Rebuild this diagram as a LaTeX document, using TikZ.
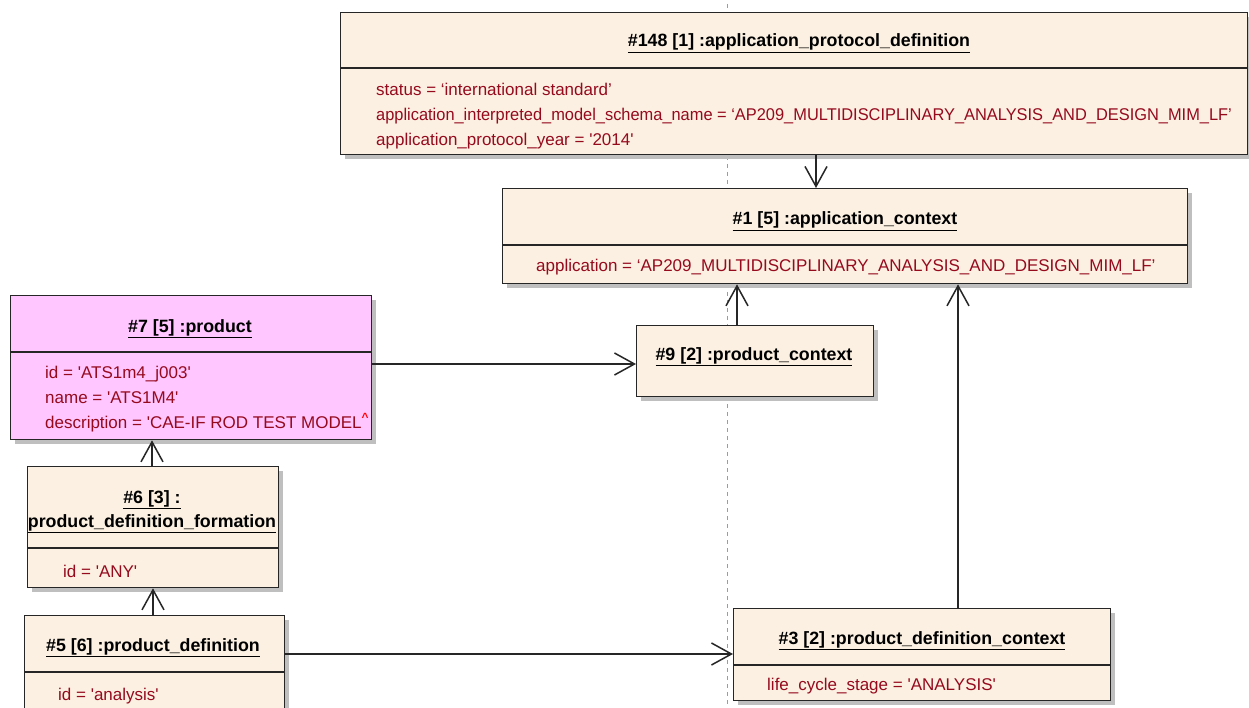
\documentclass[tikz,border=0pt]{standalone}
\usepackage{fontspec}
\setmainfont{Liberation Sans}
\usetikzlibrary{arrows.meta,shadows}
\definecolor{beige}{RGB}{251,240,225}
\definecolor{pinkbox}{RGB}{255,198,255}
\definecolor{attrc}{RGB}{150,10,30}
\definecolor{dashc}{RGB}{150,150,200}
\newcommand\sq{\textquotesingle}
\newcommand\ttl[1]{\underline{#1}}
\tikzset{
  umlbox/.style={draw=black!85, line width=1.3pt, inner sep=0pt, anchor=north west,
    fill=beige, drop shadow={shadow xshift=4pt, shadow yshift=-4pt, fill=black!25, opacity=1}},
  septor/.style={draw=black!85, line width=1.1pt},
  titletext/.style={font=\fontsize{17.8}{20}\selectfont\bfseries, anchor=base, inner sep=0pt, text=black},
  attrtext/.style={font=\fontsize{17}{20}\selectfont, text=attrc, anchor=base west, inner sep=0pt},
  conn/.style={draw=black!85, line width=1.5pt, -{Straight Barb[length=20pt,width=22pt,line width=1.5pt]}},
  lifeline/.style={draw=dashc, line width=1pt, dash pattern=on 4pt off 4pt}
}
\begin{document}
\begin{tikzpicture}[x=1pt,y=-1pt]
\useasboundingbox (0,0) rectangle (1249,708);
\clip (0,0) rectangle (1249,708);
\fill[white] (0,0) rectangle (1249,708);
% lifeline
\coordinate (ltop) at (727,4);
\coordinate (lbot) at (727,708);
\draw[lifeline] (ltop) -- (lbot);
% boxes
\node[umlbox, minimum width=907pt, minimum height=142pt] (n148) at (340,12) {};
\node[umlbox, minimum width=685pt, minimum height=95pt] (n1) at (502,188) {};
\node[umlbox, fill=pinkbox, minimum width=361pt, minimum height=144pt] (n7) at (10,295) {};
\node[umlbox, minimum width=237pt, minimum height=71pt] (n9) at (636,325) {};
\node[umlbox, minimum width=251pt, minimum height=121pt] (n6) at (27,466) {};
\node[umlbox, minimum width=260pt, minimum height=130pt] (n5) at (24,615) {};
\node[umlbox, minimum width=377pt, minimum height=92pt] (n3) at (733,608) {};
% separators
\draw[septor] (n148.west |- 0,68) -- (n148.east |- 0,68);
\draw[septor] (n1.west |- 0,245) -- (n1.east |- 0,245);
\draw[septor] (n7.west |- 0,352) -- (n7.east |- 0,352);
\draw[septor] (n6.west |- 0,548) -- (n6.east |- 0,548);
\draw[septor] (n5.west |- 0,672) -- (n5.east |- 0,672);
\draw[septor] (n3.west |- 0,665) -- (n3.east |- 0,665);
% titles
\node[titletext] (t148) at (799,47) {\ttl{\#148 [1] :application\_protocol\_definition}};
\node[titletext] (t1) at (845,225) {\ttl{\#1 [5] :application\_context}};
\node[titletext] (t7) at (190,332) {\ttl{\#7 [5] :product}};
\node[titletext] (t9) at (754,360) {\ttl{\#9 [2] :product\_context}};
\node[titletext] (t6a) at (152,503) {\ttl{\#6 [3] :}};
\node[titletext] (t6b) at (152,527) {\ttl{product\_definition\_formation}};
\node[titletext] (t5) at (153,651) {\ttl{\#5 [6] :product\_definition}};
\node[titletext] (t3) at (922,644) {\ttl{\#3 [2] :product\_definition\_context}};
% attributes
\node[attrtext] (a148a) at (376,96) {status = ‘international standard’};
\node[attrtext] (a148b) at (376,121) {\scalebox{0.965}[1]{application\_interpreted\_model\_schema\_name = ‘AP209\_MULTIDISCIPLINARY\_ANALYSIS\_AND\_DESIGN\_MIM\_LF’}};
\node[attrtext] (a148c) at (376,146) {application\_protocol\_year = \sq2014\sq};
\node[attrtext] (a1) at (536,272) {application = ‘AP209\_MULTIDISCIPLINARY\_ANALYSIS\_AND\_DESIGN\_MIM\_LF’};
\node[attrtext] (a7a) at (45,378) {id = \sq ATS1m4\_j003\sq};
\node[attrtext] (a7b) at (45,403) {name = \sq ATS1M4\sq};
\node[attrtext] (a7c) at (45,428) {description = \sq CAE-IF ROD TEST MODEL\textsuperscript{\color{red}\bfseries\^{}}};
\node[attrtext] (a6) at (63,577) {id = \sq ANY\sq};
\node[attrtext] (a5) at (58,700) {id = \sq analysis\sq};
\node[attrtext] (a3) at (767,690) {life\_cycle\_stage = \sq ANALYSIS\sq};
% connector guides
\coordinate (g1) at (816,0);
\coordinate (g2) at (737,0);
\coordinate (g3) at (0,364);
\coordinate (g4) at (152,0);
\coordinate (g5) at (153,0);
\coordinate (g6) at (0,654);
\coordinate (g7) at (958,0);
% connectors
\draw[conn] (n148.south -| g1) -- (n1.north -| g1);
\draw[conn] (n9.north -| g2) -- (n1.south -| g2);
\draw[conn] (n7.east |- g3) -- (n9.west |- g3);
\draw[conn] (n6.north -| g4) -- (n7.south -| g4);
\draw[conn] (n5.north -| g5) -- (n6.south -| g5);
\draw[conn] (n5.east |- g6) -- (n3.west |- g6);
\draw[conn] (n3.north -| g7) -- (n1.south -| g7);
\end{tikzpicture}
\end{document}
